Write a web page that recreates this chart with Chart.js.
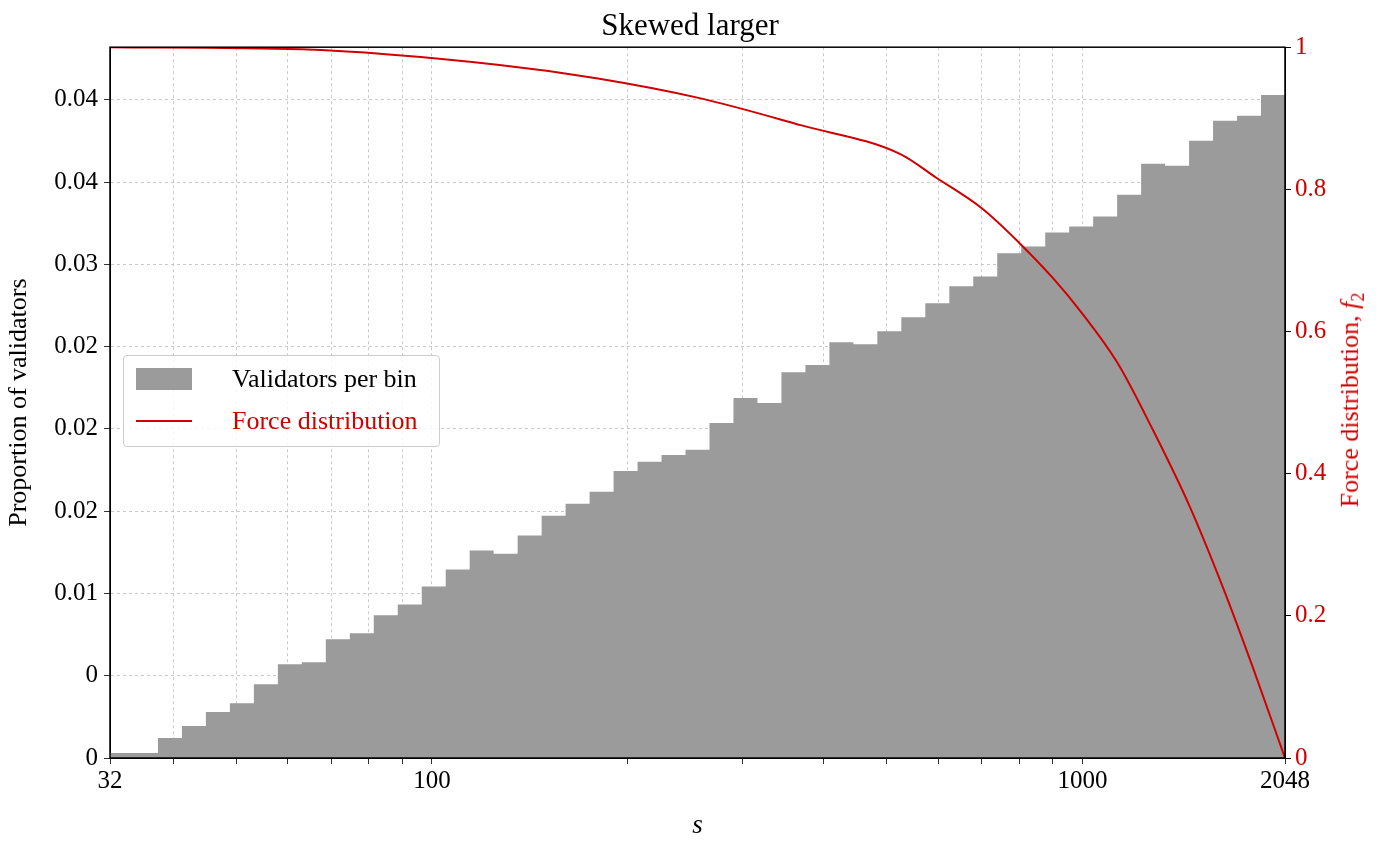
<!DOCTYPE html>
<html>
<head>
<meta charset="utf-8">
<script src="https://cdn.jsdelivr.net/npm/chart.js@4"></script>
<style>
  body { margin: 0; background: #fff; }
  #wrap { position: relative; width: 1380px; height: 846px; }
  #legend { position: absolute; left: 123px; top: 355px; width: 315px; height: 90px; border: 1px solid #ccc; border-radius: 4px; background: rgba(255,255,255,0.85); font-family: "Liberation Serif", serif; font-size: 26px; }
  #legend .row { position: absolute; left: 12px; height: 30px; display: flex; align-items: center; }
  #legend .sw { width: 56px; margin-right: 40px; }
  #rtitle { position: absolute; left: 1352px; top: 400px; transform: translate(-50%, -50%) rotate(-90deg); white-space: nowrap; color: #d00000; font-family: "Liberation Serif", serif; font-size: 26px; }
</style>
</head>
<body>
<div id="wrap">
  <canvas id="chart" width="1380" height="846"></canvas>
  <div id="legend">
    <div class="row" style="top:8px"><div class="sw" style="height:22px;background:#9b9b9b"></div><span>Validators per bin</span></div>
    <div class="row" style="top:50px"><div class="sw" style="height:2px;background:#d00000"></div><span style="color:#d00000">Force distribution</span></div>
  </div>
  <div id="rtitle">Force distribution, <i>f</i><sub style="font-size:18px">2</sub></div>
</div>
<script>
// Histogram of validators per log-spaced bin, plus force curve on right axis.

const S_MIN = 32;
const S_MAX = 2048;
const BIN_VALUES = [
  0.00030, 0.00121, 0.00194, 0.00279, 0.00333, 0.00448, 0.00570, 0.00582, 0.00721, 0.00758,
  0.00867, 0.00933, 0.01042, 0.01145, 0.01261, 0.01242, 0.01352, 0.01473, 0.01545, 0.01618,
  0.01745, 0.01800, 0.01842, 0.01873, 0.02036, 0.02188, 0.02158, 0.02345, 0.02388, 0.02527,
  0.02515, 0.02594, 0.02679, 0.02764, 0.02867, 0.02927, 0.03067, 0.03109, 0.03194, 0.03230,
  0.03291, 0.03424, 0.03612, 0.03600, 0.03752, 0.03873, 0.03903, 0.04030, 0.04109,
];
const FORCE_S = [32, 63, 127, 180, 259, 370, 524, 597, 701, 799, 901, 998, 1130, 1284, 1463, 1644, 1830, 2048];
const FORCE_F = [1, 0.997, 0.975, 0.956, 0.928, 0.89, 0.85, 0.816, 0.773, 0.725, 0.675, 0.626, 0.557, 0.461, 0.353, 0.24, 0.126, 0];
const LEFT_TICK_LABELS = ["0", "0", "0.01", "0.02", "0.02", "0.02", "0.03", "0.04", "0.04"];
const X_TICKS = [32, 40, 50, 60, 70, 80, 90, 100, 200, 300, 400, 500, 600, 700, 800, 900, 1000, 2048];
const X_TICK_LABELS = { 32: "32", 100: "100", 1000: "1000", 2048: "2048" };

const RED = "#d00000";
const GREY = "#9b9b9b";
const FONT = "Liberation Serif";

// step outline of the histogram: point at each bin edge carries the bin ending there
const nBins = BIN_VALUES.length;
const edges = [];
for (let i = 0; i <= nBins; i++) edges.push(S_MIN * Math.pow(S_MAX / S_MIN, i / nBins));
const histPoints = edges.map((x, i) => ({ x, y: BIN_VALUES[Math.max(i - 1, 0)] }));
const forcePoints = FORCE_S.map((x, i) => ({ x, y: FORCE_F[i] }));

const frame = {
  id: "frame",
  afterDatasetsDraw(chart) {
    const { ctx, chartArea: a } = chart;
    ctx.save();
    ctx.strokeStyle = "#000";
    ctx.lineWidth = 1.5;
    ctx.strokeRect(a.left, a.top, a.right - a.left, a.bottom - a.top);
    ctx.restore();
  },
};

new Chart(document.getElementById("chart"), {
  data: {
    datasets: [
      { type: "line", label: "Validators per bin", data: histPoints, yAxisID: "y", stepped: "before", borderWidth: 0, borderColor: GREY, backgroundColor: GREY, fill: "origin", pointRadius: 0, order: 2 },
      { type: "line", label: "Force distribution", data: forcePoints, yAxisID: "y1", borderColor: RED, borderWidth: 2, pointRadius: 0, cubicInterpolationMode: "monotone", order: 1 },
    ],
  },
  options: {
    responsive: false,
    animation: false,
    plugins: {
      legend: { display: false },
      tooltip: { enabled: false },
      title: { display: true, text: "Skewed larger", color: "#000", font: { family: FONT, size: 31, weight: "normal" }, padding: { top: 8, bottom: 2 } },
    },
    scales: {
      x: {
        type: "logarithmic", min: S_MIN, max: S_MAX,
        afterBuildTicks: (s) => { s.ticks = X_TICKS.map((v) => ({ value: v })); },
        afterFit: (s) => { s.height = 88; },
        ticks: { autoSkip: false, maxRotation: 0, color: "#000", font: { family: FONT, size: 25 }, padding: 2, callback: (v) => X_TICK_LABELS[v] ?? "" },
        grid: { color: "#bdbdbd", lineWidth: 0.8, tickLength: 6, tickColor: "#000" },
        border: { dash: [3, 3], color: "#000" },
        title: { display: true, text: "s", color: "#000", font: { family: FONT, size: 27, style: "italic" }, padding: { top: 4 } },
      },
      y: {
        position: "left", min: 0, max: 0.0432,
        afterBuildTicks: (s) => { s.ticks = LEFT_TICK_LABELS.map((_, i) => ({ value: i * 0.005 })); },
        afterFit: (s) => { s.width = 110; },
        ticks: { color: "#000", font: { family: FONT, size: 25 }, padding: 6, callback: (v, i) => LEFT_TICK_LABELS[i] },
        grid: { color: "#bdbdbd", lineWidth: 0.8, tickLength: 6, tickColor: "#000" },
        border: { dash: [3, 3], color: "#000" },
        title: { display: true, text: "Proportion of validators", color: "#000", font: { family: FONT, size: 26 }, padding: { bottom: 0 } },
      },
      y1: {
        position: "right", min: 0, max: 1,
        afterFit: (s) => { s.width = 95; },
        ticks: { stepSize: 0.2, color: RED, font: { family: FONT, size: 25 }, padding: 4, callback: (v) => String(Math.round(v * 10) / 10) },
        grid: { drawOnChartArea: false, tickLength: 6, tickColor: "#000" },
        border: { color: "#000" },
      },
    },
  },
  plugins: [frame],
});
</script>
</body>
</html>
